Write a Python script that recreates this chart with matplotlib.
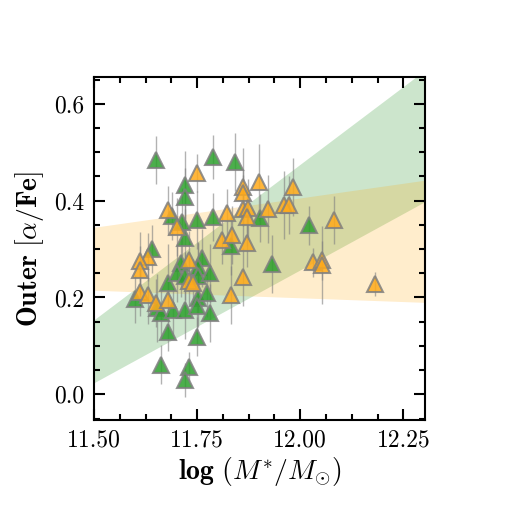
import matplotlib
matplotlib.use("Agg")
import matplotlib.pyplot as plt
import numpy as np

plt.rcParams['font.family'] = 'serif'
plt.rcParams['font.serif'] = ['cmr10']
plt.rcParams['mathtext.fontset'] = 'cm'
plt.rcParams['axes.formatter.use_mathtext'] = True

# green sample
green_mass = [11.650, 11.789, 11.842, 11.721, 11.721, 11.689, 11.750, 11.789,
              11.714, 11.721, 11.641, 11.833, 11.903, 12.022, 11.932, 11.600,
              11.653, 11.663, 11.680, 11.692, 11.721, 11.711, 11.701, 11.721,
              11.762, 11.752, 11.752, 11.782, 11.752, 11.750, 11.774, 11.782,
              11.680, 11.750, 11.663, 11.731, 11.721]
green_afe = [0.484, 0.490, 0.479, 0.432, 0.407, 0.368, 0.360, 0.366,
             0.356, 0.323, 0.300, 0.306, 0.364, 0.349, 0.269, 0.197,
             0.178, 0.168, 0.230, 0.174, 0.174, 0.271, 0.251, 0.244,
             0.281, 0.263, 0.244, 0.251, 0.199, 0.182, 0.209, 0.168,
             0.129, 0.119, 0.061, 0.057, 0.030]
green_err = [0.050, 0.045, 0.060, 0.070, 0.060, 0.050, 0.060, 0.050,
             0.070, 0.060, 0.050, 0.060, 0.050, 0.040, 0.060, 0.050,
             0.070, 0.050, 0.080, 0.050, 0.060, 0.070, 0.060, 0.050,
             0.060, 0.050, 0.070, 0.060, 0.060, 0.050, 0.050, 0.060,
             0.040, 0.040, 0.040, 0.030, 0.035]

# orange sample
orange_mass = [11.750, 11.680, 11.701, 11.862, 11.862, 11.900, 11.983, 11.823,
               11.862, 11.874, 11.871, 11.922, 11.961, 11.973, 12.083, 11.811,
               11.835, 11.871, 12.032, 12.053, 12.053, 12.182, 11.631, 11.612,
               11.612, 11.612, 11.631, 11.650, 11.680, 11.731, 11.731, 11.740,
               11.862, 11.833]
orange_afe = [0.457, 0.380, 0.345, 0.428, 0.415, 0.438, 0.428, 0.374,
              0.382, 0.385, 0.366, 0.382, 0.391, 0.391, 0.360, 0.319,
              0.329, 0.312, 0.273, 0.277, 0.267, 0.228, 0.284, 0.275,
              0.257, 0.211, 0.205, 0.189, 0.195, 0.277, 0.234, 0.230,
              0.242, 0.205]
orange_err = [0.040, 0.050, 0.060, 0.080, 0.050, 0.080, 0.060, 0.050,
              0.070, 0.060, 0.060, 0.070, 0.070, 0.060, 0.050, 0.050,
              0.060, 0.050, 0.030, 0.040, 0.080, 0.025, 0.050, 0.060,
              0.050, 0.050, 0.060, 0.050, 0.040, 0.060, 0.050, 0.050,
              0.060, 0.060]

# fit bands: edges at x = 11.5 and x = 12.3
band_x = [11.5, 12.3]
green_lo = [0.024, 0.397]
green_hi = [0.154, 0.668]
orange_lo = [0.215, 0.190]
orange_hi = [0.345, 0.442]

fig = plt.figure(figsize=(5.25, 5.25), dpi=100)
ax = fig.add_axes([0.179, 0.2, 0.631, 0.653])

ax.fill_between(band_x, green_lo, green_hi, color='green', alpha=0.2, lw=0)
ax.fill_between(band_x, orange_lo, orange_hi, color='orange', alpha=0.2, lw=0)

ax.errorbar(green_mass, green_afe, yerr=green_err, fmt='none',
            ecolor='gray', elinewidth=1.0, alpha=0.6, zorder=2)
ax.errorbar(orange_mass, orange_afe, yerr=orange_err, fmt='none',
            ecolor='gray', elinewidth=1.0, alpha=0.6, zorder=2)
ax.plot(green_mass, green_afe, '^', ms=11, mfc='#2ca02c', mec='gray',
        mew=1.5, alpha=0.85, zorder=3)
ax.plot(orange_mass, orange_afe, '^', ms=11, mfc='#ffaa1a', mec='gray',
        mew=1.5, alpha=0.85, zorder=3)

ax.set_xlim(11.5, 12.303)
ax.set_ylim(-0.053, 0.655)
ax.set_xticks([11.5, 11.75, 12.0, 12.25])
ax.set_xticklabels(['11.50', '11.75', '12.00', '12.25'])
ax.set_yticks([0.0, 0.2, 0.4, 0.6])
ax.set_yticklabels(['0.0', '0.2', '0.4', '0.6'])
ax.set_xticks(np.arange(11.5, 12.31, 0.0625), minor=True)
ax.set_yticks(np.arange(-0.05, 0.66, 0.05), minor=True)
ax.tick_params(which='both', direction='in', top=True, right=True,
               labelsize=17, width=1.5)
ax.tick_params(which='major', length=8, pad=7)
ax.tick_params(which='minor', length=4)
for s in ax.spines.values():
    s.set_linewidth(1.5)

ax.set_xlabel(r'$\mathbf{log}\ (M^{*}/M_{\odot})$', fontsize=20, labelpad=2)
ax.set_ylabel(r'$\mathbf{Outer\ [}\alpha\mathbf{/Fe]}$', fontsize=20, labelpad=6)

fig.savefig('out.png', dpi=100)
